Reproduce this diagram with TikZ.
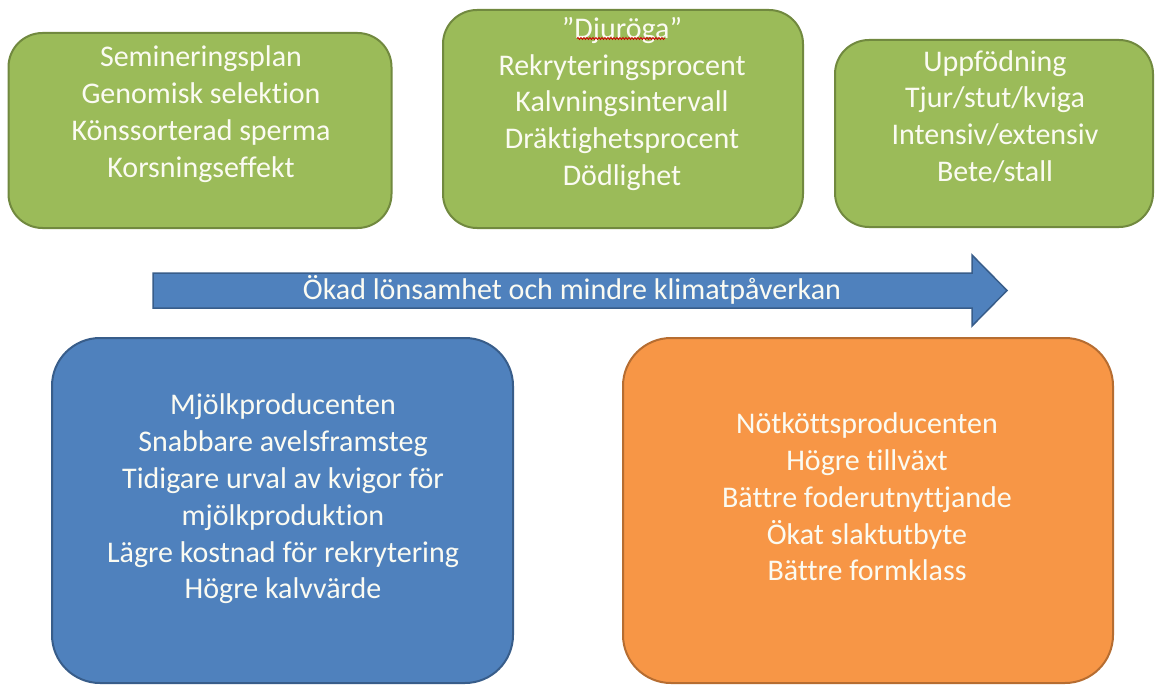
\documentclass[tikz,border=0pt]{standalone}
\usepackage{fontspec}
\setmainfont{Carlito}[Ligatures={NoCommon,NoRequired,NoContextual}]
\usetikzlibrary{decorations.pathmorphing}
\definecolor{gfill}{HTML}{9BBB59}
\definecolor{gline}{HTML}{71893F}
\definecolor{bfill}{HTML}{4F81BD}
\definecolor{bline}{HTML}{385D8A}
\definecolor{ofill}{HTML}{F79646}
\definecolor{oline}{HTML}{B66D31}
\definecolor{txtc}{HTML}{FBFBF2}
\begin{document}
\begin{tikzpicture}[x=1pt,y=-1pt,
  gbox/.style={draw=gline, fill=gfill, line width=2pt, rounded corners=34pt, inner sep=0pt},
  bbox/.style={draw=bline, fill=bfill, line width=2pt, rounded corners=48pt, inner sep=0pt},
  obox/.style={draw=oline, fill=ofill, line width=2pt, rounded corners=48pt, inner sep=0pt},
  txt/.style={text=txtc, align=center, inner sep=0pt, font=\fontsize{30}{36.8}\selectfont},
  arrowshape/.style={draw=bline, fill=bfill, line width=1.5pt, line join=miter},
  squiggle/.style={draw=red!80!black, line width=0.8pt, decorate, decoration={snake, amplitude=1pt, segment length=3pt}}
]
\useasboundingbox[fill=white] (0,0) rectangle (1156,687);

% top boxes
\node[gbox, minimum width=383pt, minimum height=195pt] (b1) at (200,130.5) {};
\node[gbox, minimum width=360pt, minimum height=218pt] (b2) at (623,119) {};
\node[gbox, minimum width=318pt, minimum height=187pt] (b3) at (994,133.5) {};

\node[txt] (t1) at (201,114) {Semineringsplan\\Genomisk selektion\\Könssorterad sperma\\Korsningseffekt};
\node[txt] (t2) at (622,104) {”Djuröga”\\Rekryteringsprocent\\Kalvningsintervall\\Dräktighetsprocent\\Dödlighet};
\node[txt] (t3) at (995,116.5) {Uppfödning\\Tjur/stut/kviga\\Intensiv/extensiv\\Bete/stall};

\coordinate (u1) at (577,38.5);
\coordinate (u2) at (665,38.5);
\draw[squiggle] (u1) -- (u2);

% arrow
\coordinate (a1) at (153,273);
\coordinate (a2) at (972,273);
\coordinate (a3) at (972,255);
\coordinate (a4) at (1007,290.5);
\coordinate (a5) at (972,326);
\coordinate (a6) at (972,308);
\coordinate (a7) at (153,308);
\draw[arrowshape] (a1) -- (a2) -- (a3) -- (a4) -- (a5) -- (a6) -- (a7) -- cycle;
\node[txt] (ta) at (572,290) {Ökad lönsamhet och mindre klimatpåverkan};

% bottom boxes
\node[bbox, minimum width=461pt, minimum height=345pt] (b4) at (282.5,510.5) {};
\node[obox, minimum width=490pt, minimum height=345pt] (b5) at (868,510.5) {};

\node[txt] (t4) at (283,499) {Mjölkproducenten\\Snabbare avelsframsteg\\Tidigare urval av kvigor för\\mjölkproduktion\\Lägre kostnad för rekrytering\\Högre kalvvärde};
\node[txt] (t5) at (867,497) {Nötköttsproducenten\\Högre tillväxt\\Bättre foderutnyttjande\\Ökat slaktutbyte\\Bättre formklass};
\end{tikzpicture}
\end{document}
